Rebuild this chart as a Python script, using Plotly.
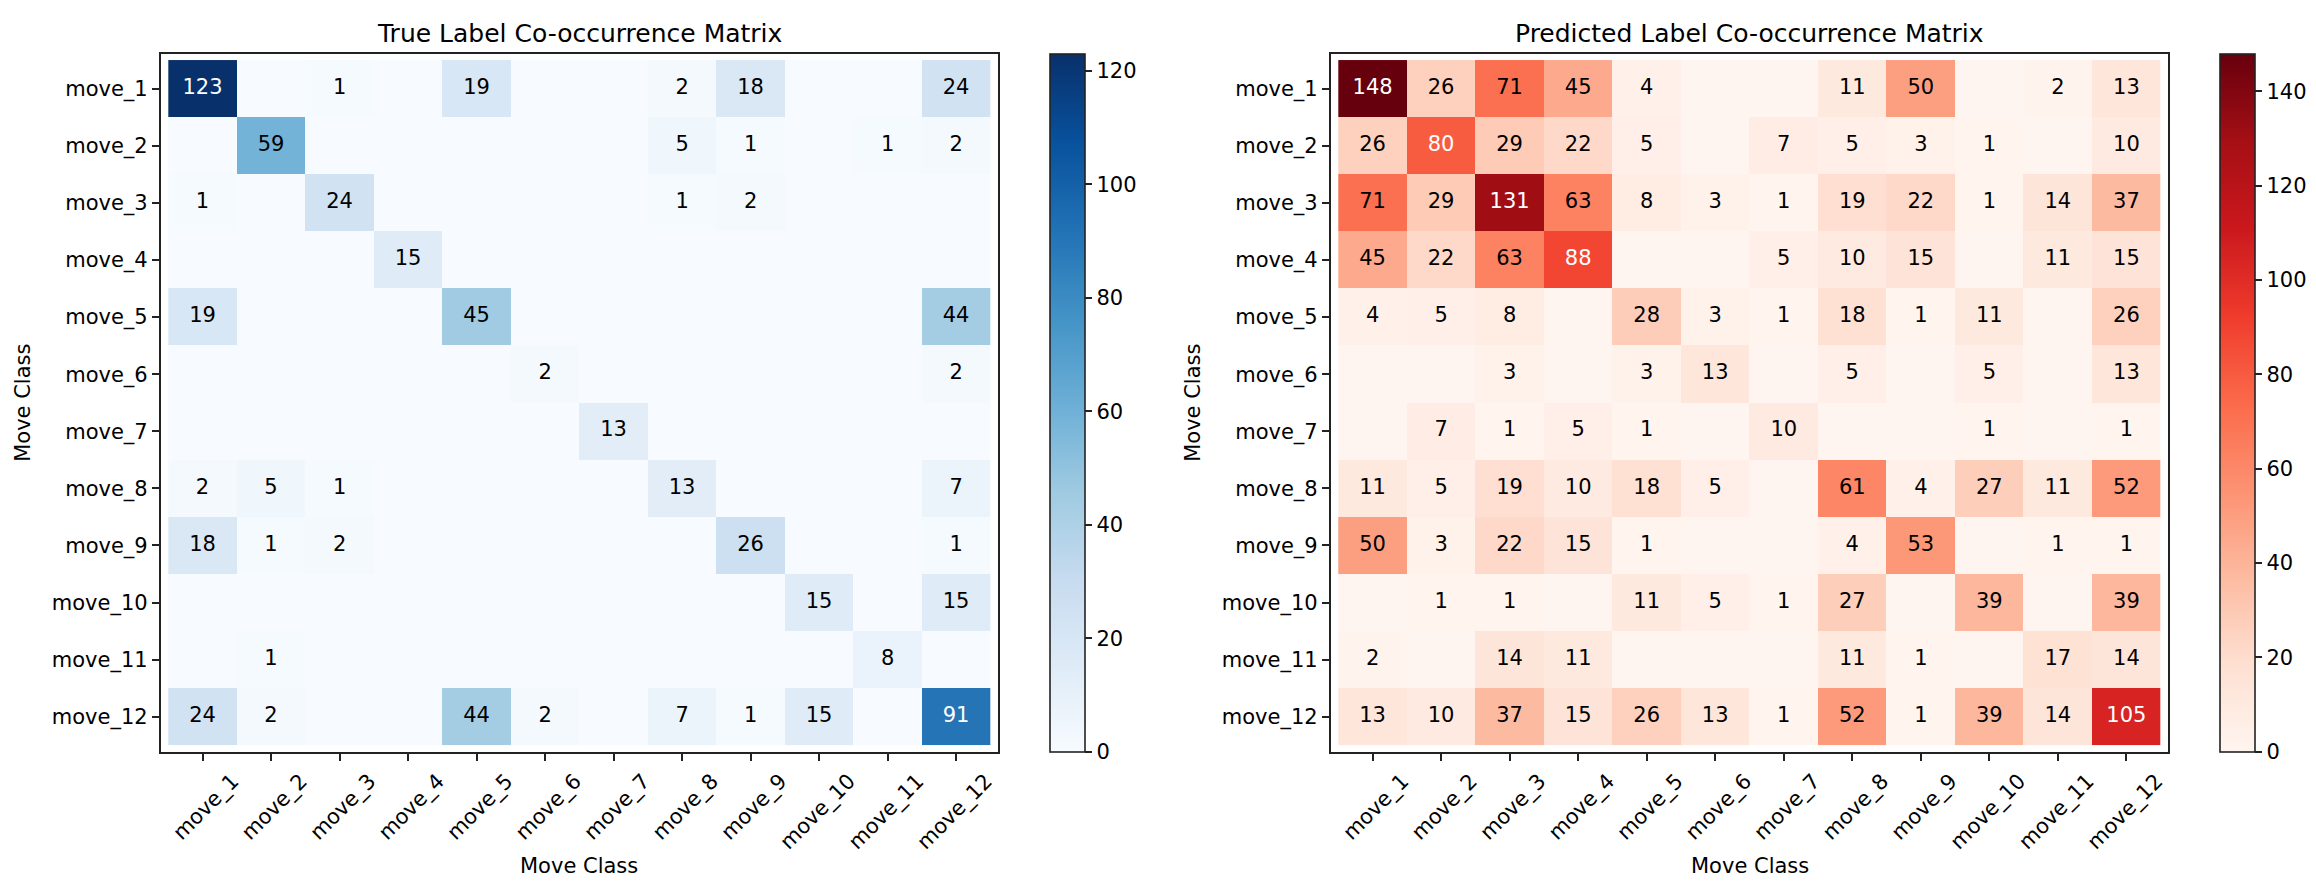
import plotly.graph_objects as go

labels = [f"move_{i}" for i in range(1, 13)]

true_matrix = [
    [123, 0, 1, 0, 19, 0, 0, 2, 18, 0, 0, 24],
    [0, 59, 0, 0, 0, 0, 0, 5, 1, 0, 1, 2],
    [1, 0, 24, 0, 0, 0, 0, 1, 2, 0, 0, 0],
    [0, 0, 0, 15, 0, 0, 0, 0, 0, 0, 0, 0],
    [19, 0, 0, 0, 45, 0, 0, 0, 0, 0, 0, 44],
    [0, 0, 0, 0, 0, 2, 0, 0, 0, 0, 0, 2],
    [0, 0, 0, 0, 0, 0, 13, 0, 0, 0, 0, 0],
    [2, 5, 1, 0, 0, 0, 0, 13, 0, 0, 0, 7],
    [18, 1, 2, 0, 0, 0, 0, 0, 26, 0, 0, 1],
    [0, 0, 0, 0, 0, 0, 0, 0, 0, 15, 0, 15],
    [0, 1, 0, 0, 0, 0, 0, 0, 0, 0, 8, 0],
    [24, 2, 0, 0, 44, 2, 0, 7, 1, 15, 0, 91],
]

pred_matrix = [
    [148, 26, 71, 45, 4, 0, 0, 11, 50, 0, 2, 13],
    [26, 80, 29, 22, 5, 0, 7, 5, 3, 1, 0, 10],
    [71, 29, 131, 63, 8, 3, 1, 19, 22, 1, 14, 37],
    [45, 22, 63, 88, 0, 0, 5, 10, 15, 0, 11, 15],
    [4, 5, 8, 0, 28, 3, 1, 18, 1, 11, 0, 26],
    [0, 0, 3, 0, 3, 13, 0, 5, 0, 5, 0, 13],
    [0, 7, 1, 5, 1, 0, 10, 0, 0, 1, 0, 1],
    [11, 5, 19, 10, 18, 5, 0, 61, 4, 27, 11, 52],
    [50, 3, 22, 15, 1, 0, 0, 4, 53, 0, 1, 1],
    [0, 1, 1, 0, 11, 5, 1, 27, 0, 39, 0, 39],
    [2, 0, 14, 11, 0, 0, 0, 11, 1, 0, 17, 14],
    [13, 10, 37, 15, 26, 13, 1, 52, 1, 39, 14, 105],
]

titles = ["True Label Co-occurrence Matrix", "Predicted Label Co-occurrence Matrix"]
axis_title = "Move Class"

W, H = 2316, 884
FONT = "DejaVu Sans"

xdoms = [[152.7 / W, 990.0 / W], [1322.7 / W, 2160.3 / W]]
ydom = [1 - 743.7 / H, 1 - 45.7 / H]
cb_x = [1042.0 / W, 2212.0 / W]
scales = ["Blues", "Reds"]

fig = go.Figure()

for k, (mat, cs) in enumerate(zip([true_matrix, pred_matrix], scales)):
    xa = "x" if k == 0 else "x2"
    ya = "y" if k == 0 else "y2"
    vmax = max(max(r) for r in mat)
    fig.add_trace(go.Heatmap(
        z=mat, x=labels, y=labels, colorscale=cs, zmin=0, zmax=vmax,
        xaxis=xa, yaxis=ya, xgap=0, ygap=0, hoverinfo="skip",
        colorbar=dict(
            x=cb_x[k], xanchor="left", xref="paper", xpad=0, ypad=0,
            y=ydom[0], yanchor="bottom", len=698, lenmode="pixels",
            thickness=35, thicknessmode="pixels",
            outlinewidth=1.6, outlinecolor="#222",
            ticks="outside", ticklen=7, tickwidth=1.6, tickcolor="#222",
            tickmode="linear", tick0=0, dtick=20,
            tickfont=dict(family=FONT, size=21, color="black"),
        ),
    ))
    thr = vmax / 2
    for color, cond in [("black", lambda v: v <= thr), ("white", lambda v: v > thr)]:
        xs, ys, ts = [], [], []
        for i, row in enumerate(mat):
            for j, v in enumerate(row):
                if v != 0 and cond(v):
                    xs.append(labels[j]); ys.append(labels[i]); ts.append(str(v))
        fig.add_trace(go.Scatter(
            x=xs, y=ys, text=ts, mode="text", xaxis=xa, yaxis=ya,
            textfont=dict(family=FONT, size=21, color=color),
            showlegend=False, hoverinfo="skip",
        ))

axis_common = dict(
    showline=True, mirror=True, linecolor="#222", linewidth=1.6,
    ticks="outside", ticklen=7, tickwidth=1.6, tickcolor="#222",
    tickfont=dict(family=FONT, size=21, color="black"),
    showgrid=False, zeroline=False, automargin=False,
)

layout = dict(
    width=W, height=H, margin=dict(l=0, r=0, t=0, b=0),
    paper_bgcolor="white", plot_bgcolor="white",
    font=dict(family=FONT, color="black"),
    showlegend=False,
)
for k in range(2):
    sx = "" if k == 0 else "2"
    layout["xaxis" + sx] = dict(
        axis_common, domain=xdoms[k], anchor="y" + sx, tickangle=-45,
        ticklabelshift=30,
        categoryorder="array", categoryarray=labels,
    )
    layout["yaxis" + sx] = dict(
        axis_common, domain=ydom, anchor="x" + sx, autorange="reversed",
        title=dict(text=axis_title, font=dict(family=FONT, size=21), standoff=15),
        categoryorder="array", categoryarray=labels,
    )
fig.update_layout(**layout)

for k in range(2):
    xc = (xdoms[k][0] + xdoms[k][1]) / 2
    fig.add_annotation(
        text=titles[k], xref="paper", yref="paper",
        x=xc, y=1 - 25.0 / H,
        xanchor="center", yanchor="middle", showarrow=False,
        font=dict(family=FONT, size=25, color="black"),
    )
    fig.add_annotation(
        text=axis_title, xref="paper", yref="paper",
        x=xc, y=1 - 858.0 / H,
        xanchor="center", yanchor="middle", showarrow=False,
        font=dict(family=FONT, size=21, color="black"),
    )

fig.write_html("out.html")
